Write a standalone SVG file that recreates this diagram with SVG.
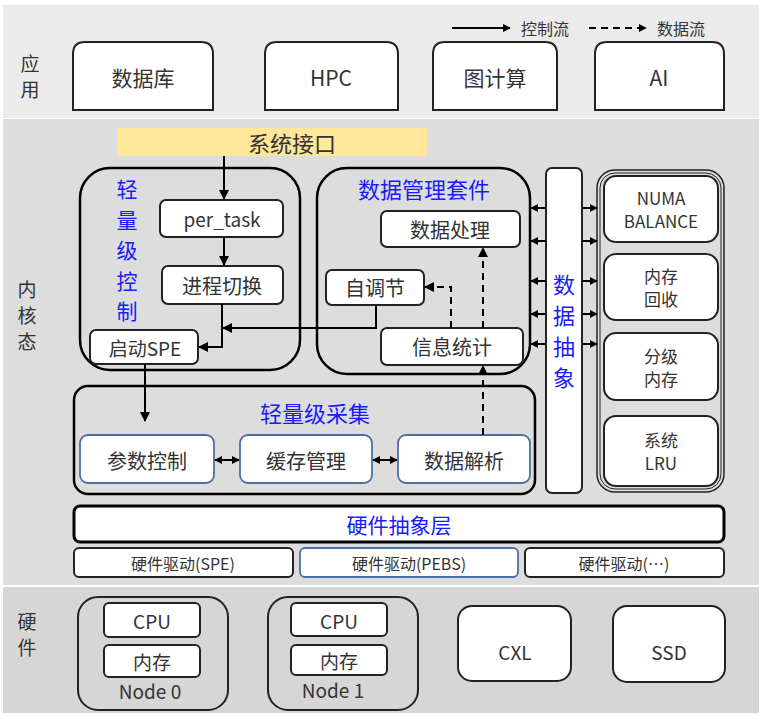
<svg xmlns="http://www.w3.org/2000/svg" width="763" height="720" viewBox="0 0 763 720">
<defs>
<marker id="ah" viewBox="0 0 10 10" refX="9" refY="5" markerWidth="10" markerHeight="10" markerUnits="userSpaceOnUse" orient="auto-start-reverse"><path d="M0,0 L10,5 L0,10 z" fill="#000"/></marker>
<marker id="ahs" viewBox="0 0 10 10" refX="9" refY="5" markerWidth="8" markerHeight="8" markerUnits="userSpaceOnUse" orient="auto-start-reverse"><path d="M0,0 L10,5 L0,10 z" fill="#000"/></marker>
<style>
text{font-family:"Noto Sans CJK SC","Noto Sans",sans-serif;fill:#333;text-anchor:middle;dominant-baseline:central}
.box{fill:#fff;stroke:#222;stroke-width:2}
.grp{fill:none;stroke:#000;stroke-width:2.5}
.blueb{fill:#fff;stroke:#4a6fa5;stroke-width:1.8}
.blue{fill:#1a1aff}
.ln{fill:none;stroke:#000;stroke-width:2}
.dash{fill:none;stroke:#000;stroke-width:2;stroke-dasharray:7,5}
</style>
</defs>
<rect x="0" y="0" width="763" height="720" fill="#fff"/>
<rect x="3" y="5" width="756" height="113" fill="#ebebeb"/>
<rect x="3" y="119" width="756" height="466" fill="#dddddd"/>
<rect x="3" y="587" width="756" height="126" fill="#d6d6d6"/>

<g id="legend">
<line x1="452" y1="28" x2="510" y2="28" class="ln" marker-end="url(#ahs)"/>
<text x="545" y="28" font-size="16">控制流</text>
<line x1="589" y1="28" x2="646" y2="28" class="dash" marker-end="url(#ahs)"/>
<text x="681" y="28" font-size="16">数据流</text>
</g>

<g id="labels">
<text x="30" y="62" font-size="19">应</text><text x="30" y="88" font-size="19">用</text>
<text x="27" y="288" font-size="19">内</text><text x="27" y="314" font-size="19">核</text><text x="27" y="340" font-size="19">态</text>
<text x="27" y="620" font-size="19">硬</text><text x="27" y="646" font-size="19">件</text>
</g>

<g id="app-db"><path d="M73,110 V54 Q73,42 85,42 H201 Q213,42 213,54 V110 Z" class="box"/><text x="143" y="77" font-size="21">数据库</text></g>
<g id="app-hpc"><path d="M265,110 V54 Q265,42 277,42 H386 Q398,42 398,54 V110 Z" class="box"/><text x="331" y="77" font-size="21">HPC</text></g>
<g id="app-graph"><path d="M433,110 V54 Q433,42 445,42 H545 Q557,42 557,54 V110 Z" class="box"/><text x="495" y="77" font-size="21">图计算</text></g>
<g id="app-ai"><path d="M595,110 V54 Q595,42 607,42 H712 Q724,42 724,54 V110 Z" class="box"/><text x="659" y="77" font-size="21">AI</text></g>

<g id="syscall"><rect x="117" y="128" width="310" height="28" fill="#ffe699"/><text x="292" y="142" font-size="22">系统接口</text></g>

<g id="light-ctrl">
<rect x="80" y="168" width="220" height="202" rx="30" class="grp"/>
<text class="blue" x="127" y="188" font-size="21">轻</text>
<text class="blue" x="127" y="218.5" font-size="21">量</text>
<text class="blue" x="127" y="249" font-size="21">级</text>
<text class="blue" x="127" y="279.5" font-size="21">控</text>
<text class="blue" x="127" y="310" font-size="21">制</text>
</g>
<g id="per-task"><rect x="160" y="200" width="123" height="37" rx="6" class="box"/><text x="222" y="218" font-size="19">per_task</text></g>
<g id="proc-switch"><rect x="162" y="266" width="121" height="38" rx="6" class="box"/><text x="222" y="285" font-size="20">进程切换</text></g>
<g id="start-spe"><rect x="90" y="330" width="108" height="34" rx="6" class="box"/><text x="145" y="347" font-size="19">启动SPE</text></g>

<g id="data-mgmt">
<rect x="317" y="168" width="213" height="206" rx="30" class="grp"/>
<text class="blue" x="424" y="188" font-size="22">数据管理套件</text>
</g>
<g id="data-proc"><rect x="381" y="211" width="139" height="36" rx="6" class="box"/><text x="450" y="229" font-size="20">数据处理</text></g>
<g id="self-tune"><rect x="326" y="270" width="98" height="35" rx="6" class="box"/><text x="375" y="287" font-size="20">自调节</text></g>
<g id="info-stat"><rect x="381" y="328" width="142" height="37" rx="6" class="box"/><text x="452" y="346" font-size="20">信息统计</text></g>

<g id="data-abs">
<rect x="546" y="168" width="36" height="325" rx="6" class="box" stroke-width="2.5"/>
<text class="blue" x="564" y="283" font-size="22">数</text>
<text class="blue" x="564" y="314" font-size="22">据</text>
<text class="blue" x="564" y="345" font-size="22">抽</text>
<text class="blue" x="564" y="376" font-size="22">象</text>
</g>

<g id="policies">
<rect x="597" y="170" width="127" height="322" rx="18" fill="none" stroke="#222" stroke-width="1.5"/>
<rect x="600" y="173" width="121" height="316" rx="15" fill="none" stroke="#222" stroke-width="1"/>
</g>
<g id="numa"><rect x="604" y="176" width="114" height="66" rx="12" class="box"/><text x="661" y="197" font-size="17">NUMA</text><text x="661" y="220" font-size="17">BALANCE</text></g>
<g id="reclaim"><rect x="604" y="254" width="114" height="66" rx="12" class="box"/><text x="661" y="275" font-size="17">内存</text><text x="661" y="298" font-size="17">回收</text></g>
<g id="tiering"><rect x="604" y="333" width="114" height="67" rx="12" class="box"/><text x="661" y="355" font-size="17">分级</text><text x="661" y="378" font-size="17">内存</text></g>
<g id="lru"><rect x="604" y="416" width="114" height="70" rx="12" class="box"/><text x="661" y="439" font-size="17">系统</text><text x="661" y="462" font-size="17">LRU</text></g>

<g id="light-collect">
<rect x="74" y="386" width="461" height="108" rx="14" class="grp"/>
<text class="blue" x="315" y="412" font-size="22">轻量级采集</text>
</g>
<g id="param-ctrl"><rect x="80" y="435" width="134" height="48" rx="8" class="blueb"/><text x="147" y="460" font-size="20">参数控制</text></g>
<g id="cache-mgmt"><rect x="240" y="435" width="132" height="48" rx="8" class="blueb"/><text x="306" y="460" font-size="20">缓存管理</text></g>
<g id="data-parse"><rect x="398" y="435" width="132" height="48" rx="8" class="blueb"/><text x="464" y="460" font-size="20">数据解析</text></g>

<g id="hal"><rect x="74" y="506" width="650" height="36" rx="6" fill="#fff" stroke="#000" stroke-width="3"/><text class="blue" x="399" y="524" font-size="21">硬件抽象层</text></g>
<g id="drv-spe"><rect x="74" y="548" width="219" height="29" rx="5" class="box"/><text x="183" y="563" font-size="16">硬件驱动(SPE)</text></g>
<g id="drv-pebs"><rect x="300" y="548" width="218" height="29" rx="5" class="blueb"/><text x="409" y="563" font-size="16">硬件驱动(PEBS)</text></g>
<g id="drv-other"><rect x="525" y="548" width="199" height="29" rx="5" class="box"/><text x="624" y="563" font-size="16">硬件驱动(…)</text></g>

<g id="node0">
<rect x="78" y="597" width="150" height="113" rx="20" fill="none" stroke="#222" stroke-width="2"/>
<rect x="104" y="603" width="96" height="34" rx="5" class="box"/><text x="152" y="620" font-size="19">CPU</text>
<rect x="104" y="645" width="96" height="32" rx="5" class="box"/><text x="152" y="661" font-size="19">内存</text>
<text x="150" y="690" font-size="19">Node 0</text>
</g>
<g id="node1">
<rect x="268" y="597" width="150" height="113" rx="20" fill="none" stroke="#222" stroke-width="2"/>
<rect x="291" y="603" width="96" height="33" rx="5" class="box"/><text x="339" y="620" font-size="19">CPU</text>
<rect x="291" y="645" width="96" height="30" rx="5" class="box"/><text x="339" y="660" font-size="19">内存</text>
<text x="333" y="689" font-size="19">Node 1</text>
</g>
<g id="cxl"><rect x="458" y="606" width="113" height="75" rx="14" class="box"/><text x="515" y="651" font-size="19">CXL</text></g>
<g id="ssd"><rect x="613" y="606" width="112" height="76" rx="14" class="box"/><text x="669" y="651" font-size="19">SSD</text></g>

<g id="connectors">
<line x1="224" y1="156" x2="224" y2="199" class="ln" marker-end="url(#ah)"/>
<line x1="224" y1="237" x2="224" y2="265" class="ln" marker-end="url(#ah)"/>
<polyline points="222,304 222,347 199,347" class="ln" marker-end="url(#ah)"/>
<polyline points="376,305 376,328 223,328" class="ln" marker-end="url(#ah)"/>
<line x1="145" y1="364" x2="145" y2="421" class="ln" marker-end="url(#ah)"/>
<line x1="483" y1="328" x2="483" y2="248" class="dash" marker-end="url(#ah)"/>
<polyline points="451,328 451,287 425,287" class="dash" marker-end="url(#ah)"/>
<line x1="483" y1="435" x2="483" y2="366" class="dash" marker-end="url(#ah)"/>
<line x1="215" y1="460" x2="239" y2="460" class="ln" marker-start="url(#ahs)" marker-end="url(#ahs)"/>
<line x1="373" y1="460" x2="397" y2="460" class="ln" marker-start="url(#ahs)" marker-end="url(#ahs)"/>
<line x1="546" y1="208" x2="531" y2="208" class="ln" marker-end="url(#ahs)"/>
<line x1="546" y1="241" x2="531" y2="241" class="ln" marker-end="url(#ahs)"/>
<line x1="546" y1="281" x2="531" y2="281" class="ln" marker-end="url(#ahs)"/>
<line x1="546" y1="314" x2="531" y2="314" class="ln" marker-end="url(#ahs)"/>
<line x1="546" y1="344" x2="531" y2="344" class="ln" marker-end="url(#ahs)"/>
<line x1="582" y1="208" x2="597" y2="208" class="ln" marker-end="url(#ahs)"/>
<line x1="582" y1="241" x2="597" y2="241" class="ln" marker-end="url(#ahs)"/>
<line x1="582" y1="281" x2="597" y2="281" class="ln" marker-end="url(#ahs)"/>
<line x1="582" y1="314" x2="597" y2="314" class="ln" marker-end="url(#ahs)"/>
<line x1="582" y1="344" x2="597" y2="344" class="ln" marker-end="url(#ahs)"/>
</g>
</svg>
